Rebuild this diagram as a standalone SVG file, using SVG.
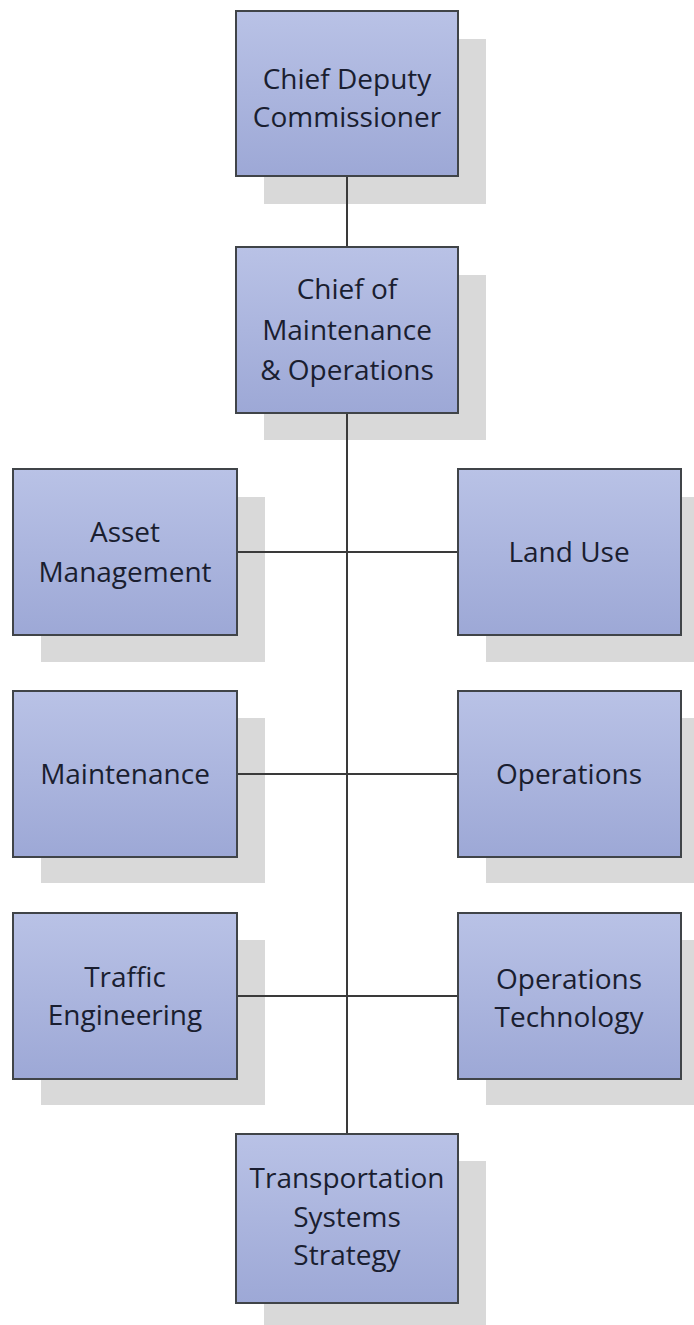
<svg xmlns="http://www.w3.org/2000/svg" width="694" height="1325" viewBox="0 0 694 1325">
<defs>
<linearGradient id="g" x1="0" y1="0" x2="0" y2="1">
<stop offset="0" stop-color="#b9c2e6"/>
<stop offset="1" stop-color="#9da8d6"/>
</linearGradient>
</defs>
<style>
.sh{fill:#d9d9d9}
.bx{fill:url(#g);stroke:#404448;stroke-width:2}
.t{font-family:"Open Sans","Liberation Sans",sans-serif;font-size:28px;fill:#1a1e30;text-anchor:middle}
.c{stroke:#3a3a3a;stroke-width:2;fill:none}
</style>
<rect width="694" height="1325" fill="#ffffff"/>
<g id="shadows">
<rect class="sh" x="264" y="39" width="222" height="165"/>
<rect class="sh" x="264" y="275" width="222" height="165"/>
<rect class="sh" x="41" y="497" width="224" height="165"/>
<rect class="sh" x="486" y="497" width="208" height="165"/>
<rect class="sh" x="41" y="718" width="224" height="165"/>
<rect class="sh" x="486" y="718" width="208" height="165"/>
<rect class="sh" x="41" y="940" width="224" height="165"/>
<rect class="sh" x="486" y="940" width="208" height="165"/>
<rect class="sh" x="264" y="1161" width="222" height="164"/>
</g>
<g id="connectors">
<line class="c" x1="347" y1="176" x2="347" y2="247"/>
<line class="c" x1="347" y1="413" x2="347" y2="1134"/>
<line class="c" x1="237" y1="552" x2="458" y2="552"/>
<line class="c" x1="237" y1="774" x2="458" y2="774"/>
<line class="c" x1="237" y1="996" x2="458" y2="996"/>
</g>
<g id="n1"><rect class="bx" x="236" y="11" width="222" height="165"/>
<text class="t" x="347" y="89">Chief Deputy</text><text class="t" x="347" y="127">Commissioner</text></g>
<g id="n2"><rect class="bx" x="236" y="247" width="222" height="166"/>
<text class="t" x="347" y="299">Chief of</text><text class="t" x="347" y="340">Maintenance</text><text class="t" x="347" y="380">&amp; Operations</text></g>
<g id="n3"><rect class="bx" x="13" y="469" width="224" height="166"/>
<text class="t" x="125" y="542">Asset</text><text class="t" x="125" y="582">Management</text></g>
<g id="n4"><rect class="bx" x="458" y="469" width="223" height="166"/>
<text class="t" x="569" y="562">Land Use</text></g>
<g id="n5"><rect class="bx" x="13" y="691" width="224" height="166"/>
<text class="t" x="125" y="784">Maintenance</text></g>
<g id="n6"><rect class="bx" x="458" y="691" width="223" height="166"/>
<text class="t" x="569" y="784">Operations</text></g>
<g id="n7"><rect class="bx" x="13" y="913" width="224" height="166"/>
<text class="t" x="125" y="987">Traffic</text><text class="t" x="125" y="1025">Engineering</text></g>
<g id="n8"><rect class="bx" x="458" y="913" width="223" height="166"/>
<text class="t" x="569" y="989">Operations</text><text class="t" x="569" y="1027">Technology</text></g>
<g id="n9"><rect class="bx" x="236" y="1134" width="222" height="169"/>
<text class="t" x="347" y="1188">Transportation</text><text class="t" x="347" y="1227">Systems</text><text class="t" x="347" y="1265">Strategy</text></g>
</svg>
